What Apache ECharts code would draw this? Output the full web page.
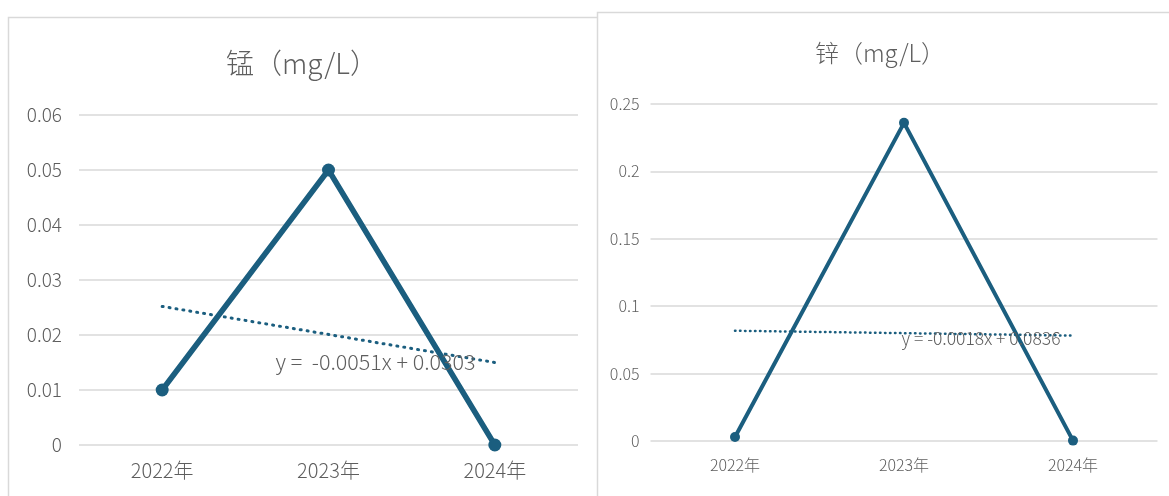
<!DOCTYPE html>
<html>
<head>
<meta charset="utf-8">
<script src="https://cdn.jsdelivr.net/npm/echarts@6/dist/echarts.min.js"></script>
<style>
html,body{margin:0;padding:0;background:#fff;}
#chart{width:1169px;height:496px;}
</style>
</head>
<body>
<div id="chart"></div>
<script>
const years = ['2022年', '2023年', '2024年'];
const mnValues = [0.01, 0.05, 0];
const mnTrend = [0.0252, 0.0201, 0.0150];
const mnYTicks = [0, 0.01, 0.02, 0.03, 0.04, 0.05, 0.06];
const mnTitle = '锰（mg/L）';
const mnEquation = 'y =  -0.0051x + 0.0303';

const znValues = [0.003, 0.236, 0.0003];
const znTrend = [0.0818, 0.0800, 0.0782];
const znYTicks = [0, 0.05, 0.1, 0.15, 0.2, 0.25];
const znTitle = '锌（mg/L）';
const znEquation = 'y = -0.0018x + 0.0836';

const FONT = '"Noto Sans CJK SC", "Noto Sans", sans-serif';
const LINE = '#1b5e7f';
const TXT = '#5e5e5e';
const GRIDC = '#d9d9d9';
const FW = 300;

const chart = echarts.init(document.getElementById('chart'), null, {renderer: 'canvas'});

function yAxis(idx, ticks, fs, margin) {
  return {
    type: 'value', gridIndex: idx,
    min: ticks[0], max: ticks[ticks.length - 1],
    interval: ticks[1] - ticks[0],
    axisLine: {show: false}, axisTick: {show: false},
    splitLine: {lineStyle: {color: GRIDC, width: 1.5}},
    axisLabel: {color: TXT, fontSize: fs, fontFamily: FONT, fontWeight: FW, margin: margin,
      formatter: v => String(+v.toFixed(4))}
  };
}
function xAxis(idx, fs, margin) {
  return {
    type: 'category', gridIndex: idx, data: years, boundaryGap: true,
    axisLine: {show: false}, axisTick: {show: false}, splitLine: {show: false},
    axisLabel: {color: TXT, fontSize: fs, fontFamily: FONT, fontWeight: FW, margin: margin}
  };
}

const option = {
  animation: false,
  backgroundColor: '#fff',
  graphic: [
    {type: 'rect', z: -10, shape: {x: 8.5, y: 17.5, width: 620, height: 520},
     style: {fill: '#fff', stroke: GRIDC, lineWidth: 1.5}},
    {type: 'rect', z: -9, shape: {x: 597.5, y: 12.5, width: 620, height: 520},
     style: {fill: '#fff', stroke: GRIDC, lineWidth: 1.5}}
  ],
  title: [
    {text: mnTitle, left: 297, top: 44, textAlign: 'center',
     textStyle: {color: TXT, fontSize: 28, fontWeight: FW, fontFamily: FONT}},
    {text: znTitle, left: 875, top: 36, textAlign: 'center',
     textStyle: {color: TXT, fontSize: 24, fontWeight: FW, fontFamily: FONT}}
  ],
  grid: [
    {left: 79, right: 591, top: 115, bottom: 51, containLabel: false},
    {left: 650.5, right: 11.5, top: 104, bottom: 55, containLabel: false}
  ],
  xAxis: [xAxis(0, 20, 15), xAxis(1, 16, 16)],
  yAxis: [yAxis(0, mnYTicks, 19, 17), yAxis(1, znYTicks, 16, 11)],
  series: [
    {
      type: 'line', xAxisIndex: 0, yAxisIndex: 0, data: mnTrend,
      showSymbol: false, symbol: 'none', silent: true, z: 2,
      lineStyle: {color: LINE, width: 3, type: [1, 6], cap: 'round'},
      markPoint: {
        symbol: 'circle', symbolSize: 0, silent: true,
        data: [{coord: ['2023年', 0.0151]}],
        label: {show: true, position: 'inside', offset: [47, 0], formatter: mnEquation,
          color: TXT, fontSize: 21.5, fontWeight: FW, fontFamily: FONT}
      }
    },
    {
      type: 'line', xAxisIndex: 0, yAxisIndex: 0, data: mnValues, z: 3,
      symbol: 'circle', symbolSize: 13,
      lineStyle: {color: LINE, width: 5.5}, itemStyle: {color: LINE}
    },
    {
      type: 'line', xAxisIndex: 1, yAxisIndex: 1, data: znTrend,
      showSymbol: false, symbol: 'none', silent: true, z: 2,
      lineStyle: {color: LINE, width: 2.5, type: [0.5, 4.5], cap: 'round'},
      markPoint: {
        symbol: 'circle', symbolSize: 0, silent: true,
        data: [{coord: ['2023年', 0.0765]}],
        label: {show: true, position: 'inside', offset: [77, 0], formatter: znEquation,
          color: TXT, fontSize: 17.5, fontWeight: FW, fontFamily: FONT}
      }
    },
    {
      type: 'line', xAxisIndex: 1, yAxisIndex: 1, data: znValues, z: 3,
      symbol: 'circle', symbolSize: 10,
      lineStyle: {color: LINE, width: 4}, itemStyle: {color: LINE}
    }
  ]
};
chart.setOption(option);
</script>
</body>
</html>
